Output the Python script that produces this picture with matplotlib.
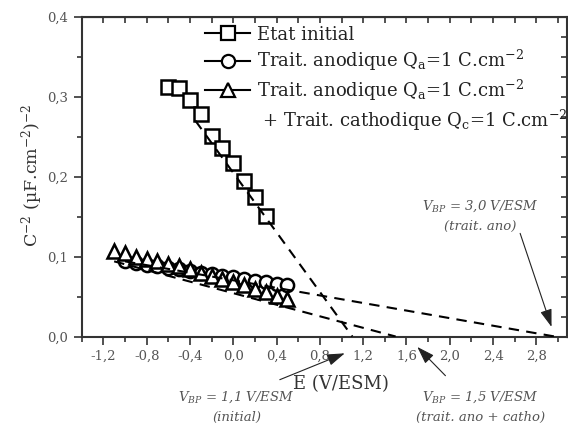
import numpy as np
import matplotlib
matplotlib.use("Agg")
import matplotlib.pyplot as plt
from matplotlib.lines import Line2D
from matplotlib.ticker import MultipleLocator, FuncFormatter

plt.rcParams['font.family'] = ['DejaVu Serif']
plt.rcParams['mathtext.fontset'] = 'dejavuserif'

# Etat initial
e_init = [-0.6, -0.5, -0.4, -0.3, -0.2, -0.1, 0.0, 0.1, 0.2, 0.3]
c_init = [0.312, 0.311, 0.296, 0.278, 0.251, 0.236, 0.217, 0.195, 0.175, 0.151]

# Trait. anodique
e_ano = [-1.0, -0.9, -0.8, -0.7, -0.6, -0.5, -0.4, -0.3, -0.2, -0.1,
         0.0, 0.1, 0.2, 0.3, 0.4, 0.5]
c_ano = [0.094, 0.092, 0.090, 0.088, 0.086, 0.084, 0.082, 0.080, 0.078, 0.076,
         0.074, 0.072, 0.070, 0.068, 0.066, 0.064]

# Trait. anodique + cathodique
e_cat = [-1.1, -1.0, -0.9, -0.8, -0.7, -0.6, -0.5, -0.4, -0.3, -0.2,
         -0.1, 0.0, 0.1, 0.2, 0.3, 0.4, 0.5]
c_cat = [0.107, 0.104, 0.100, 0.097, 0.094, 0.091, 0.088, 0.084, 0.080, 0.076,
         0.072, 0.068, 0.064, 0.060, 0.056, 0.051, 0.047]

# linear fits: start point and flat band potential (x intercept)
fit_start_e = [-0.35, -1.0, -1.1]
fit_start_c = [0.270, 0.094, 0.094]
v_bp = [1.1, 2.97, 1.5]

labels = ["Etat initial",
          "Trait. anodique Q$_\\mathregular{a}$=1 C.cm$^{-2}$",
          "Trait. anodique Q$_\\mathregular{a}$=1 C.cm$^{-2}$",
          " + Trait. cathodique Q$_\\mathregular{c}$=1 C.cm$^{-2}$"]


def comma(v, pos):
    return "{:.1f}".format(v).replace(".", ",")


fig = plt.figure(figsize=(5.68, 4.25), dpi=100)
ax = fig.add_axes([0.1438, 0.2082, 0.8539, 0.7525])

mk = dict(ls="none", mfc="white", mec="black", mew=1.8, zorder=3)
ax.plot(e_init, c_init, marker="s", ms=10, **mk)
ax.plot(e_ano, c_ano, marker="o", ms=9.5, **mk)
ax.plot(e_cat, c_cat, marker="^", ms=10.5, **mk)

for x0, y0, v in zip(fit_start_e, fit_start_c, v_bp):
    ax.plot([x0, v], [y0, 0], color="black", lw=1.5, ls=(0, (5, 3.5)), zorder=4)

ax.set_xlim(-1.4, 3.08)
ax.set_ylim(0, 0.4)
ax.xaxis.set_major_locator(MultipleLocator(0.4))
ax.xaxis.set_minor_locator(MultipleLocator(0.2))
ax.yaxis.set_major_locator(MultipleLocator(0.1))
ax.yaxis.set_minor_locator(MultipleLocator(0.05))
ax.xaxis.set_major_formatter(FuncFormatter(comma))
ax.yaxis.set_major_formatter(FuncFormatter(comma))
ax.set_xticks(np.arange(-1.2, 2.81, 0.4))
ax.tick_params(which="major", direction="out", length=6, width=1.2,
               labelsize=9.5, labelcolor="#555555", color="#333333")
ax.tick_params(which="minor", direction="out", length=3.5, width=1.2, color="#333333")
for s in ax.spines.values():
    s.set_linewidth(1.5)
    s.set_color("#333333")

secx = ax.secondary_xaxis("top")
secx.set_xticks(np.arange(-1.4, 3.01, 0.2))
secx.tick_params(direction="in", length=4, width=1.2, labeltop=False, color="#333333")
secy = ax.secondary_yaxis("right")
secy.set_yticks(np.arange(0, 0.401, 0.025))
secy.tick_params(direction="in", length=4, width=1.2, labelright=False, color="#333333")

ax.set_xlabel("E (V/ESM)", fontsize=13, color="#333333")
ax.xaxis.set_label_coords(0.535, -0.12)
ax.set_ylabel("C$^{-2}$ (\u00b5F.cm$^{-2}$)$^{-2}$", fontsize=12.5, color="#333333")
ax.yaxis.set_label_coords(-0.076, 0.505)

handles = [Line2D([], [], color="black", lw=1.5, marker="s", ms=9.5, mfc="white", mec="black", mew=1.6),
           Line2D([], [], color="black", lw=1.5, marker="o", ms=9.5, mfc="white", mec="black", mew=1.6),
           Line2D([], [], color="black", lw=1.5, marker="^", ms=10, mfc="white", mec="black", mew=1.6),
           Line2D([], [], color="none")]
leg = ax.legend(handles, labels, loc="upper left", bbox_to_anchor=(0.24, 0.995),
                frameon=False, fontsize=13, handlelength=2.5, handletextpad=0.35,
                labelspacing=0.25, borderaxespad=0)
for t in leg.get_texts():
    t.set_color("#222222")

ann = dict(fontsize=9.5, style="italic", color="#555555", ha="center", va="center")
ax.text(2.28, 0.151, "$V_{BP}$ = 3,0 V/ESM\n(trait. ano)", linespacing=1.6, **ann)
ax.text(0.03, -0.088, "$V_{BP}$ = 1,1 V/ESM\n(initial)", linespacing=1.6, **ann)
ax.text(2.28, -0.088, "$V_{BP}$ = 1,5 V/ESM\n(trait. ano + catho)", linespacing=1.6, **ann)

arr = dict(arrowstyle="-|>,head_length=0.9,head_width=0.3", color="#222222", lw=0.8,
           mutation_scale=12, shrinkA=0, shrinkB=0)
ax.annotate("", xy=(2.94, 0.012), xytext=(2.65, 0.129), arrowprops=arr, annotation_clip=False)
ax.annotate("", xy=(1.03, -0.021), xytext=(0.43, -0.054), arrowprops=arr, annotation_clip=False)
ax.annotate("", xy=(1.70, -0.013), xytext=(1.96, -0.049), arrowprops=arr, annotation_clip=False)

fig.savefig("out.png", dpi=100)
